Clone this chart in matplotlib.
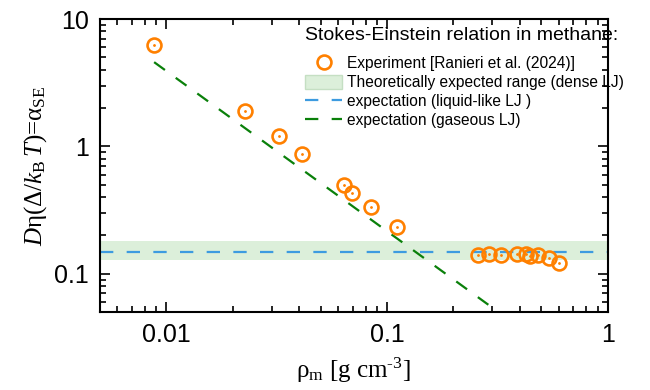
import numpy as np
import matplotlib
matplotlib.use('Agg')
import matplotlib.pyplot as plt
from matplotlib.patches import Patch
from matplotlib.lines import Line2D

# Данные
rho_exp = [0.0088, 0.0226, 0.0323, 0.0411, 0.0637, 0.0694, 0.0846, 0.111,
           0.259, 0.291, 0.327, 0.390, 0.428, 0.447, 0.485, 0.540, 0.605]
alpha_exp = [6.24, 1.89, 1.20, 0.865, 0.493, 0.434, 0.337, 0.234,
             0.139, 0.144, 0.141, 0.144, 0.144, 0.137, 0.141, 0.134, 0.122]

rho_gas = [0.0088, 0.288]
alpha_gas = [4.59, 0.057]

alpha_liquid = 0.149
band_low, band_high = 0.129, 0.179

plt.rcParams['font.family'] = ['Liberation Sans', 'DejaVu Sans']
plt.rcParams['mathtext.fontset'] = 'custom'
plt.rcParams['mathtext.rm'] = 'Liberation Serif'
plt.rcParams['mathtext.it'] = 'Liberation Serif:italic'
plt.rcParams['mathtext.bf'] = 'Liberation Serif:bold'

fig = plt.figure(figsize=(6.5, 3.9), dpi=100)
ax = fig.add_axes([0.1538, 0.2, 0.781, 0.751])

orange = '#ff8000'
blue = '#3d9be0'
green = '#0a800a'
band_color = '#dcefda'

ax.axhspan(band_low, band_high, color=band_color, lw=0, zorder=1)
ax.axhline(alpha_liquid, color=blue, lw=1.6, dashes=(6, 6), zorder=2)
ax.plot(rho_gas, alpha_gas, color=green, lw=1.6, dashes=(6, 6), zorder=2)
ax.plot(rho_exp, alpha_exp, 'o', ms=10, mfc='none', mec=orange, mew=1.9, zorder=3)
ax.plot(rho_exp, alpha_exp, '.', ms=2, color=orange, zorder=3)

ax.set_xscale('log')
ax.set_yscale('log')
ax.set_xlim(0.005, 1)
ax.set_ylim(0.05, 10)
ax.set_xticks([0.01, 0.1, 1])
ax.set_xticklabels(['0.01', '0.1', '1'])
ax.set_yticks([0.1, 1, 10])
ax.set_yticklabels(['0.1', '1', '10'])
ax.tick_params(which='both', direction='in', top=True, right=True, labelsize=18, width=1.2)
ax.tick_params(which='major', length=7, pad=8)
ax.tick_params(which='minor', length=4)
for s in ax.spines.values():
    s.set_linewidth(1.5)

ax.set_xlabel(r'ρ$_\mathrm{m}$ [g cm$^{\text{-3}}$]', family='Liberation Serif', fontsize=18, labelpad=6)
ax.set_ylabel(r'$D$η(Δ/$k_\mathrm{B}\,T$)=α$_\mathrm{SE}$', family='Liberation Serif', fontsize=18, labelpad=4)

# Заголовок легенды отдельным текстом
fig.text(305 / 650, 1 - 36 / 390, 'Stokes-Einstein relation in methane:',
         fontsize=14, ha='left', va='center')

handles = [
    Line2D([], [], marker='o', ls='none', ms=10, mfc='none', mec=orange, mew=1.9),
    Patch(facecolor=band_color, edgecolor='#c5dfc3'),
    Line2D([], [], color=blue, lw=1.6, dashes=(6, 6)),
    Line2D([], [], color=green, lw=1.6, dashes=(6, 6)),
]
labels = ['Experiment [Ranieri et al. (2024)]',
          'Theoretically expected range (dense LJ)',
          'expectation (liquid-like LJ )',
          'expectation (gaseous LJ)']
leg = ax.legend(handles, labels, loc='upper left',
                bbox_to_anchor=(305 / 650, 1 - 56 / 390), bbox_transform=fig.transFigure,
                frameon=False, fontsize=11.2, handlelength=2.4, handleheight=1.0,
                handletextpad=0.3, labelspacing=0.24, borderpad=0, borderaxespad=0)

fig.savefig('out.png', dpi=100)
